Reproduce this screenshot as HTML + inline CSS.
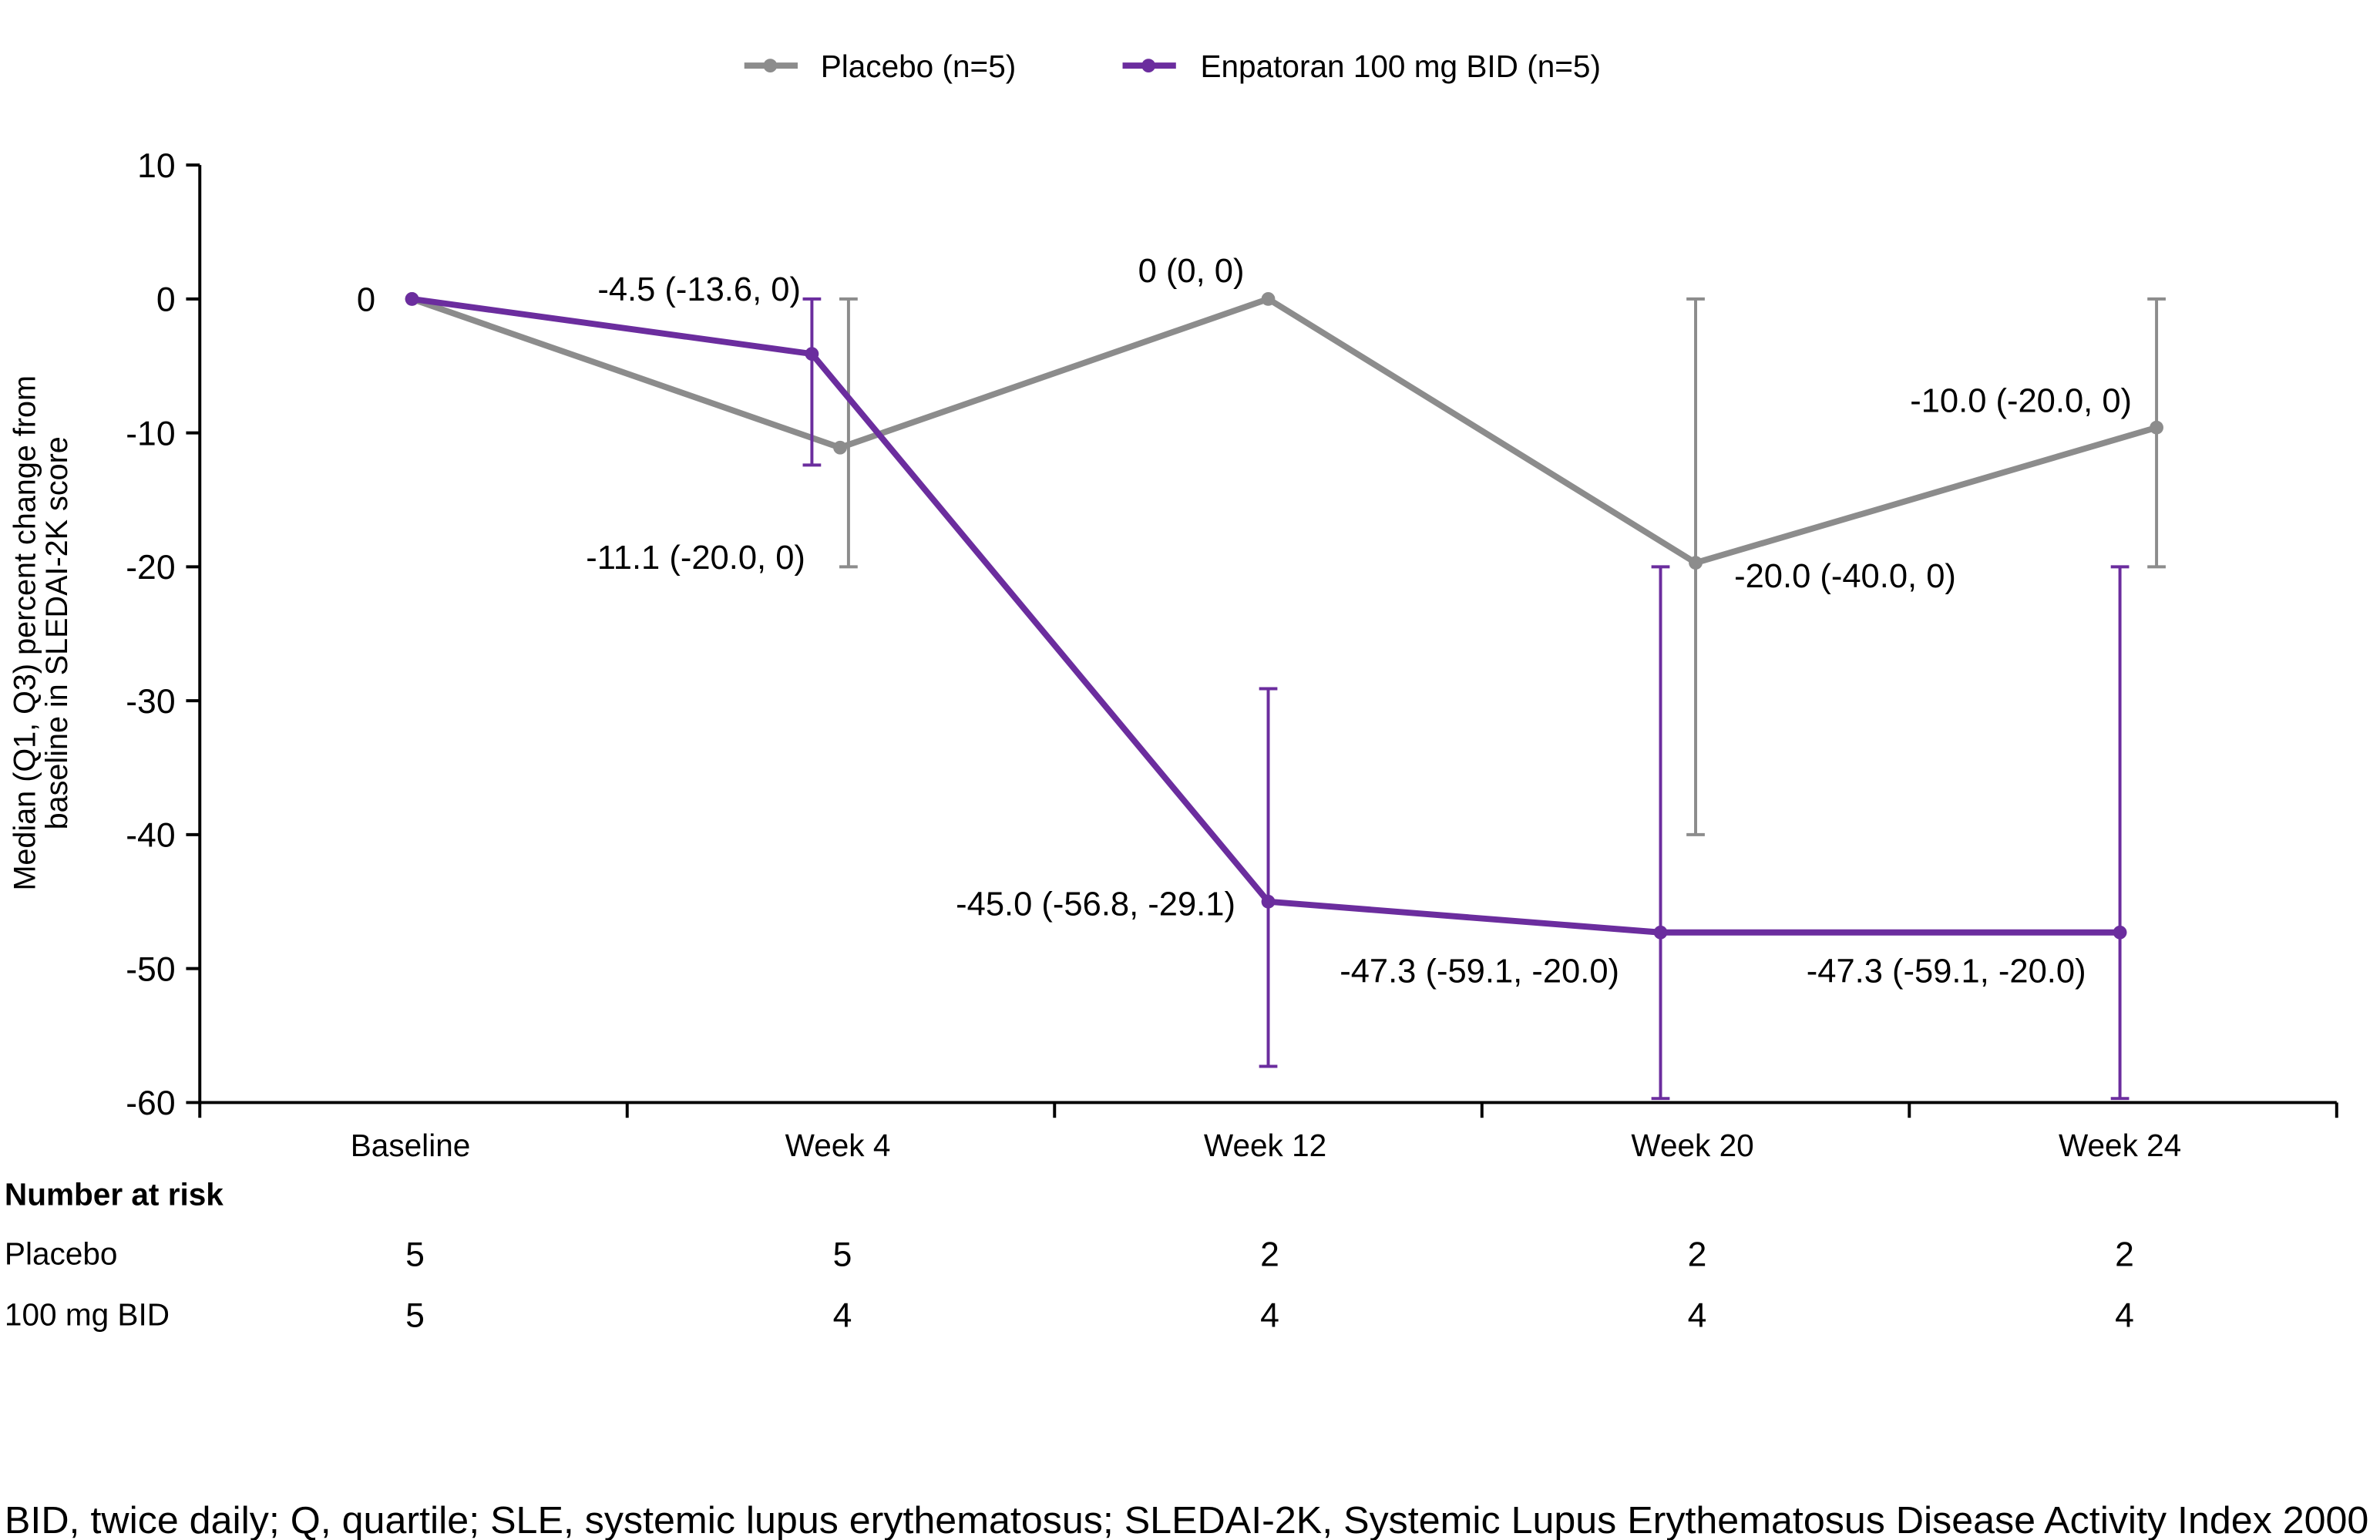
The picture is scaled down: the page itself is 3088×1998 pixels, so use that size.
<!DOCTYPE html>
<html><head><meta charset="utf-8"><style>
html,body{margin:0;padding:0;background:#fff;overflow:hidden;}
svg{display:block;font-family:"Liberation Sans",Arial,sans-serif;}
</style></head><body>
<svg id="chart" width="3088" height="1998" viewBox="0 0 1560.4 1009.6" xmlns="http://www.w3.org/2000/svg">
<g id="legend">
  <g>
    <line x1="488" y1="43" x2="523" y2="43" stroke="#8c8c8c" stroke-width="4"/>
    <circle cx="505" cy="43" r="4.5" fill="#8c8c8c"/>
    <text x="538" y="50.5" font-size="20.5">Placebo (n=5)</text>
  </g>
  <g>
    <line x1="736" y1="43" x2="771" y2="43" stroke="#6b2d9e" stroke-width="4"/>
    <circle cx="753" cy="43" r="4.5" fill="#6b2d9e"/>
    <text x="787" y="50.5" font-size="20.5">Enpatoran 100 mg BID (n=5)</text>
  </g>
</g>
<g id="axes"></g>
<g id="marks"></g>
<g id="risk">
  <text x="3" y="790" font-size="20.5" font-weight="bold">Number at risk</text>
  <text x="3" y="829" font-size="20.5">Placebo</text>
  <text x="3" y="869" font-size="20.5">100 mg BID</text>
</g>
<text x="3" y="1005" font-size="25" textLength="1550" lengthAdjust="spacingAndGlyphs">BID, twice daily; Q, quartile; SLE, systemic lupus erythematosus; SLEDAI-2K, Systemic Lupus Erythematosus Disease Activity Index 2000</text>
</svg>
<script>
const categories = ["Baseline","Week 4","Week 12","Week 20","Week 24"];
const yTicks = [10,0,-10,-20,-30,-40,-50,-60];
const placeboMedian = [0,-11.1,0,-19.7,-9.6];
const placeboQ1 = [0,-20,0,-40,-20];
const placeboQ3 = [0,0,0,0,0];
const enpMedian = [0,-4.1,-45,-47.3,-47.3];
const enpQ1 = [0,-12.4,-57.3,-59.7,-59.7];
const enpQ3 = [0,0,-29.1,-20,-20];
const placeboLabels = ["0","-11.1 (-20.0, 0)","0 (0, 0)","-20.0 (-40.0, 0)","-10.0 (-20.0, 0)"];
const enpLabels = ["","-4.5 (-13.6, 0)","-45.0 (-56.8, -29.1)","-47.3 (-59.1, -20.0)","-47.3 (-59.1, -20.0)"];
const riskPlacebo = [5,5,2,2,2];
const riskEnp = [5,4,4,4,4];

const NS="http://www.w3.org/2000/svg";
const X0=131, X1=1532, Y0=196, PER10=87.8;
const band=(X1-X0)/categories.length;
const xC=i=>X0+band*(i+0.5);
const yS=v=>Y0-v*PER10/10;
// visual offsets / label placement (styling only)
const placeboDx=[-1,-0.5,0,0,22], placeboBarDx=[0,5,0,0,22];
const enpDx=[-1,-19,0,-23,-2];
const placeboLabelPos=[[240,204,"middle"],[528,373,"end"],[781,185,"middle"],[1137,385,"start"],[1325,270,"middle"]];
const enpLabelPos=[[0,0,"middle"],[525,197,"end"],[810,600,"end"],[970,644,"middle"],[1276,644,"middle"]];
function el(tag,attrs,parent){const e=document.createElementNS(NS,tag);for(const k in attrs)e.setAttribute(k,attrs[k]);parent.appendChild(e);return e;}
const axes=document.getElementById('axes'), marks=document.getElementById('marks'), risk=document.getElementById('risk');
let a=el('line',{x1:X0,y1:yS(10),x2:X0,y2:yS(-60)+1,stroke:'#000','stroke-width':2},axes);


a=el('line',{x1:X0,y1:yS(-60),x2:X1,y2:yS(-60),stroke:'#000','stroke-width':2},axes);


yTicks.forEach(v=>{
  const t=el('line',{x1:X0-9,y1:yS(v),x2:X0,y2:yS(v),stroke:'#000','stroke-width':2},axes);
  
  
  const l=el('text',{x:X0-16,y:yS(v)+8,'font-size':22.5,'text-anchor':'end'},axes);
  l.textContent=v;
  
  
});
for(let i=0;i<=categories.length;i++){
  const t=el('line',{x1:X0+band*i,y1:yS(-60),x2:X0+band*i,y2:yS(-60)+10,stroke:'#000','stroke-width':2},axes);
  
  
}
categories.forEach((c,i)=>{
  const l=el('text',{x:xC(i)-2,y:758,'font-size':20.5,'text-anchor':'middle'},axes);
  l.textContent=c;
  
  
  const r1=el('text',{x:xC(i)+1,y:830,'font-size':22.5,'text-anchor':'middle'},risk);
  r1.textContent=riskPlacebo[i];
  
  
  const r2=el('text',{x:xC(i)+1,y:870,'font-size':22.5,'text-anchor':'middle'},risk);
  r2.textContent=riskEnp[i];
  
  
});
const yt=el('text',{transform:'translate(27,415) rotate(-90)','font-size':20,'text-anchor':'middle'},axes);


const t1=el('tspan',{x:0,dy:-4},yt);t1.textContent='Median (Q1, Q3) percent change from';
const t2=el('tspan',{x:0,dy:21},yt);t2.textContent='baseline in SLEDAI-2K score';

function series(name,color,med,q1,q3,dx,barDx,labels,lpos){
  const g=el('g',{},marks);
  
  
  med.forEach((m,i)=>{
    if(q1[i]===q3[i])return;
    const x=xC(i)+barDx[i];
    const b=el('path',{d:`M${x},${yS(q3[i])}V${yS(q1[i])}M${x-6},${yS(q3[i])}H${x+6}M${x-6},${yS(q1[i])}H${x+6}`,stroke:color,'stroke-width':2,fill:'none'},g);
    
    
  });
  const pts=med.map((m,i)=>[xC(i)+dx[i],yS(m)]);
  const p=el('polyline',{points:pts.map(q=>q.join(',')).join(' '),stroke:color,'stroke-width':4,fill:'none','stroke-linejoin':'round'},g);
  
  
  pts.forEach((q,i)=>{
    const c=el('circle',{cx:q[0],cy:q[1],r:4.5,fill:color},g);
    
    
    if(labels[i]){
      const t=el('text',{x:lpos[i][0],y:lpos[i][1],'font-size':22,'text-anchor':lpos[i][2]},g);
      t.textContent=labels[i];
      
      
    }
  });
}
series('placebo','#8c8c8c',placeboMedian,placeboQ1,placeboQ3,placeboDx,placeboBarDx,placeboLabels,placeboLabelPos);
series('enpatoran','#6b2d9e',enpMedian,enpQ1,enpQ3,enpDx,enpDx,enpLabels,enpLabelPos);
</script>
</body></html>
